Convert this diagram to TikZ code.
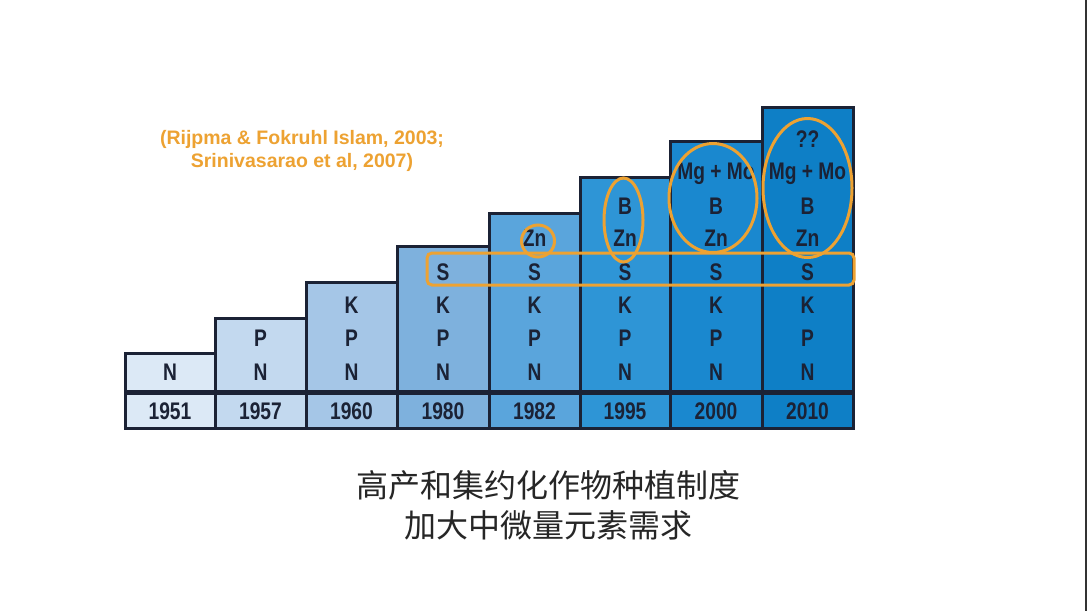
\documentclass[tikz,border=0pt]{standalone}
\usepackage{fontspec}
\setmainfont{Liberation Sans}
\newfontfamily\elfont{Liberation Sans}[FakeStretch=0.8]
\newfontfamily\cjk{Noto Sans CJK SC}
\usetikzlibrary{shapes.geometric}

\definecolor{ringorange}{HTML}{EDA232}
\definecolor{inkblue}{HTML}{1B2235}
\definecolor{colA}{HTML}{DCE9F6}
\definecolor{colB}{HTML}{C3D9EF}
\definecolor{colC}{HTML}{A5C6E7}
\definecolor{colD}{HTML}{7EB1DD}
\definecolor{colE}{HTML}{5AA5DC}
\definecolor{colF}{HTML}{2E95D6}
\definecolor{colG}{HTML}{1A88CF}
\definecolor{colH}{HTML}{0E7FC6}

\tikzset{
	elem/.style={font=\elfont\bfseries\fontsize{24}{24}\selectfont, text=inkblue, inner sep=0pt},
	ring/.style={ellipse, draw=ringorange, line width=3pt, inner sep=0pt},
}

\begin{document}
\begin{tikzpicture}[x=1pt,y=-1pt]
	\useasboundingbox (0,0) rectangle (1087,611);
	\fill[white] (0,0) rectangle (1087,611);
	\draw[line width=2pt, black!80] (1086,0) -- (1086,611);

	% steps, one per year
	\foreach \l/\r/\t/\c/\yr [count=\i] in {125/215/353/colA/1951, 215/306/318/colB/1957, 306/397/282/colC/1960, 397/489/246/colD/1980, 489/580/213/colE/1982, 580/670/177/colF/1995, 670/762/141/colG/2000, 762/853/107/colH/2010}{
		\fill[\c] (\l,\t) rectangle (\r,428);
		\draw[line width=3pt, inkblue] (\l,\t) rectangle (\r,428);
		\node[elem] (year\i) at ({(\l+\r)/2},411) {\yr};
	}
	\draw[line width=5pt, inkblue] (125,392) -- (853,392);

	% nutrients stacked in each step
	\foreach \e/\ey [count=\j] in {N/372, P/338, K/305, S/272, Zn/238, B/206, Mg + Mo/174, ??/139}{
		\foreach \xc [count=\i] in {170, 260.5, 351.5, 443, 534.5, 625, 716, 807.5}{
			\ifnum\i<\j\else
				\node[elem] (el\i-\j) at (\xc,\ey) {\e};
			\fi
		}
	}

	% highlights
	\node[draw=ringorange, line width=3pt, rounded corners=5pt, minimum width=427pt, minimum height=32pt] (srow) at (640.5,269) {};
	\node[ring, minimum width=33pt, minimum height=32pt] (ringA) at (538,241) {};
	\node[ring, minimum width=39pt, minimum height=84pt] (ringB) at (623.5,220) {};
	\node[ring, minimum width=88pt, minimum height=109pt] (ringC) at (713,198) {};
	\node[ring, minimum width=89pt, minimum height=139pt] (ringD) at (807.5,188) {};

	\node[font=\bfseries\fontsize{19.5}{23}\selectfont, text=ringorange, align=center] (cite) at (302,151) {(Rijpma \& Fokruhl Islam, 2003;\\Srinivasarao et al, 2007)};

	\node[font=\cjk\fontsize{32}{40}\selectfont, text=black!85, align=center] (caption) at (548,505) {高产和集约化作物种植制度\\加大中微量元素需求};
\end{tikzpicture}
\end{document}
